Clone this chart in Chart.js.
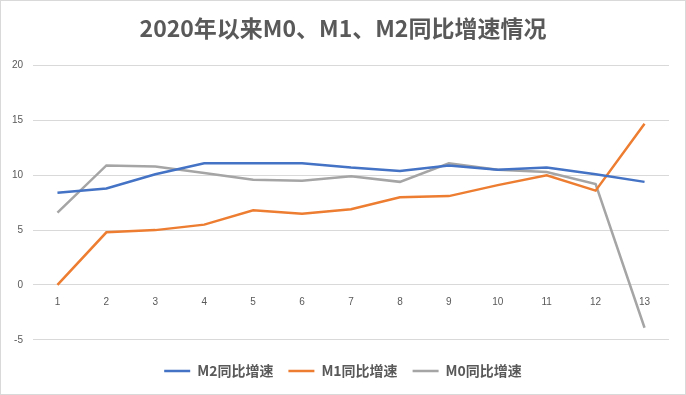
<!DOCTYPE html>
<html>
<head>
<meta charset="utf-8">
<script src="https://cdn.jsdelivr.net/npm/chart.js@4"></script>
<style>
  html, body { margin: 0; padding: 0; background: #ffffff; }
  #wrap { width: 684px; height: 393px; border: 1px solid #d9d9d9; }
</style>
</head>
<body>
<div id="wrap"><canvas id="money_chart" width="684" height="393"></canvas></div>
<script>
const month_labels = ["1", "2", "3", "4", "5", "6", "7", "8", "9", "10", "11", "12", "13"];
const m2_growth = [8.4, 8.8, 10.1, 11.1, 11.1, 11.1, 10.7, 10.4, 10.9, 10.5, 10.7, 10.1, 9.4];
const m1_growth = [0.0, 4.8, 5.0, 5.5, 6.8, 6.5, 6.9, 8.0, 8.1, 9.1, 10.0, 8.6, 14.7];
const m0_growth = [6.6, 10.9, 10.8, 10.2, 9.6, 9.5, 9.9, 9.4, 11.1, 10.5, 10.3, 9.2, -3.9];

const text_colour = "#595959";
const grid_colour = "#d9d9d9";

const money_chart_context = document.getElementById("money_chart").getContext("2d");

function makeDataset(label, values, colour) {
    return {
        label: label,
        data: values,
        borderColor: colour,
        backgroundColor: colour,
        borderWidth: 2.5,
        pointRadius: 0,
        tension: 0,
        yAxisID: "y"
    };
}

var money_chart = new Chart(money_chart_context, {
    type: "line",
    data: {
        labels: month_labels,
        datasets: [
            makeDataset("M2同比增速", m2_growth, "#4472c4"),
            makeDataset("M1同比增速", m1_growth, "#ed7d31"),
            makeDataset("M0同比增速", m0_growth, "#a5a5a5")
        ]
    },
    options: {
        responsive: false,
        animation: false,
        layout: {
            padding: { left: 8, right: 8, top: 0, bottom: 6 }
        },
        plugins: {
            title: {
                display: true,
                text: "2020年以来M0、M1、M2同比增速情况",
                color: text_colour,
                font: { size: 23, weight: "bold", family: "'Noto Sans CJK SC', sans-serif" },
                padding: { top: 13, bottom: 24 }
            },
            legend: {
                position: "bottom",
                title: {
                    display: true,
                    text: " ",
                    font: { size: 1 },
                    padding: { top: 0, bottom: 8 }
                },
                labels: {
                    usePointStyle: true,
                    pointStyle: "line",
                    pointStyleWidth: 26,
                    color: text_colour,
                    font: { size: 14, weight: "bold", family: "'Noto Sans CJK SC', sans-serif" },
                    padding: 15
                }
            },
            tooltip: { enabled: false }
        },
        scales: {
            x: {
                position: { y: 0 },
                offset: true,
                grid: { display: false },
                border: { display: false },
                ticks: {
                    color: text_colour,
                    font: { size: 10, family: "'Liberation Sans', sans-serif" },
                    maxRotation: 0,
                    padding: 3
                }
            },
            y: {
                min: -5,
                max: 20,
                afterFit: function(scale) { scale.width = 24; },
                ticks: {
                    stepSize: 5,
                    color: text_colour,
                    font: { size: 10, family: "'Liberation Sans', sans-serif" },
                    padding: 10
                },
                grid: { color: grid_colour, drawTicks: false },
                border: { display: false }
            },
            y_spacer: {
                position: "right",
                afterFit: function(scale) { scale.width = 8; },
                ticks: { display: false },
                grid: { display: false },
                border: { display: false }
            }
        }
    }
});
</script>
</body>
</html>
